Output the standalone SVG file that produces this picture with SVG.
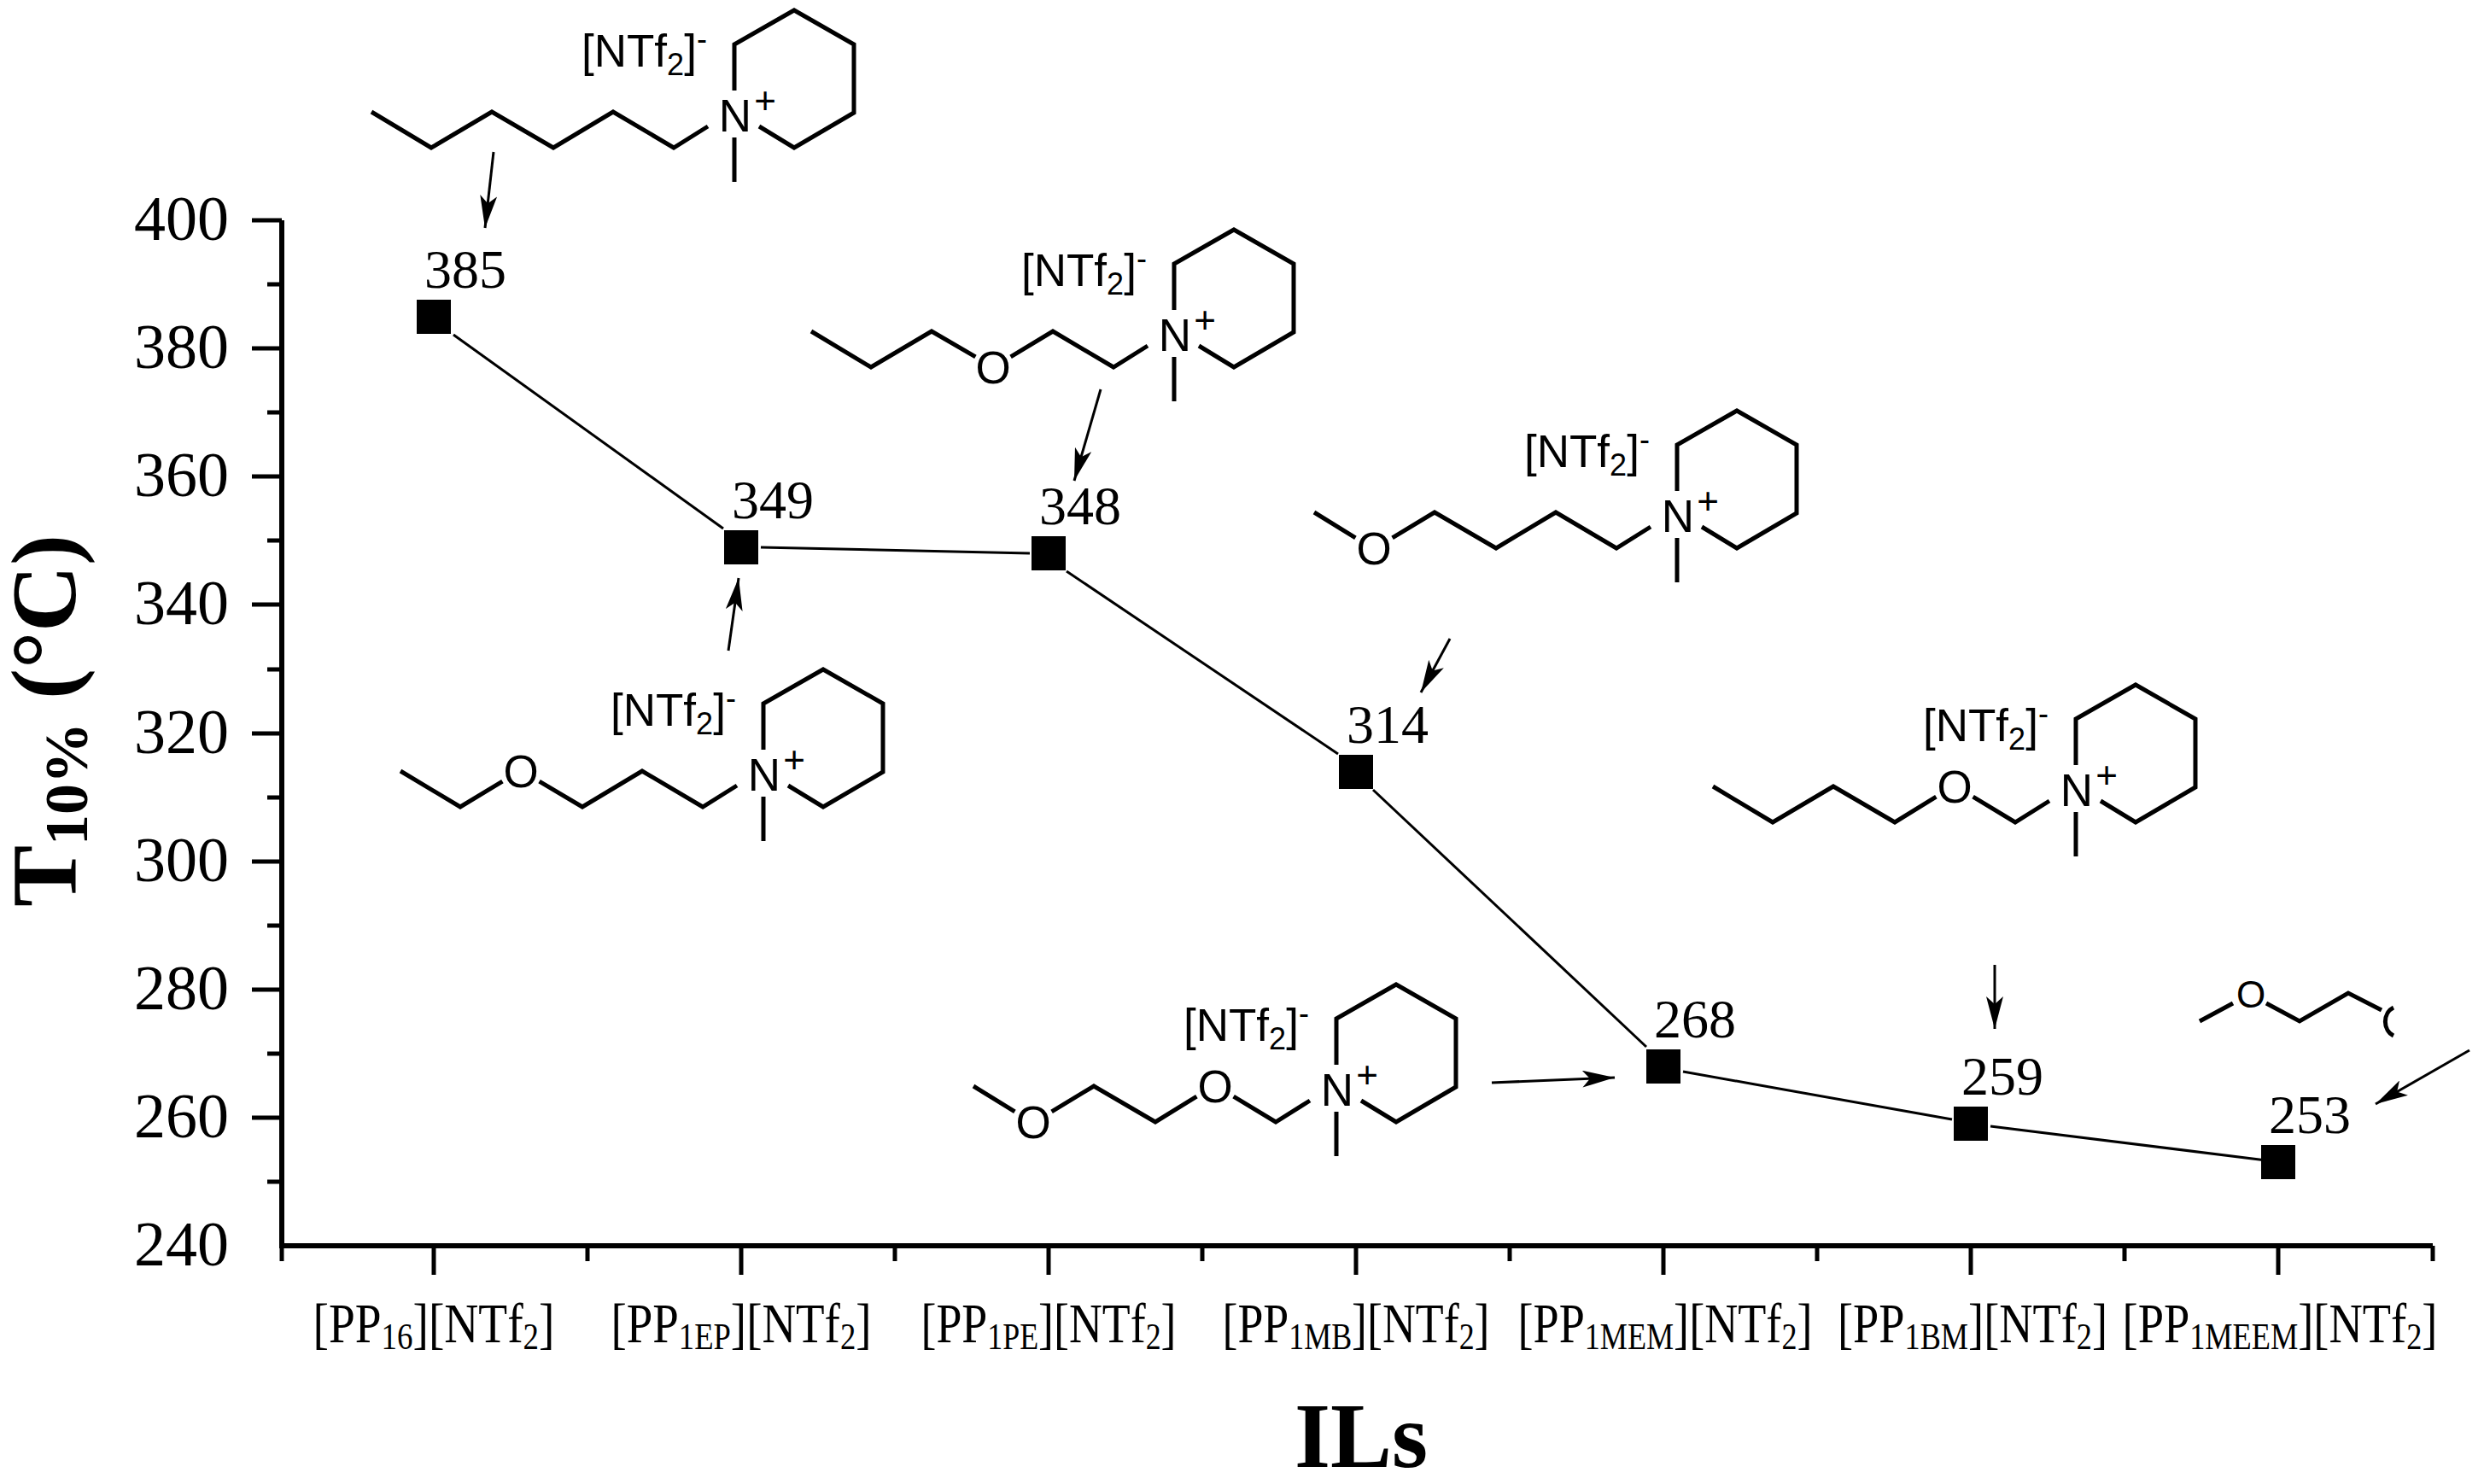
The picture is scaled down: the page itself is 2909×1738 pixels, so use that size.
<svg xmlns="http://www.w3.org/2000/svg" width="2909" height="1738" viewBox="0 0 2909 1738">
<style>
.bond{fill:none;stroke:#000;stroke-width:5;stroke-linejoin:miter}
.ax{fill:none;stroke:#000;stroke-width:6}
.tk{fill:none;stroke:#000;stroke-width:5}
.cn{fill:none;stroke:#000;stroke-width:3}
.ar{fill:none;stroke:#000;stroke-width:3;marker-end:url(#ah)}
.sans{font-family:"Liberation Sans",Arial,sans-serif;fill:#000}
.ser{font-family:"Liberation Serif","Times New Roman",serif;fill:#000}
.ion{font-size:53px}
.at{font-size:53px;text-anchor:middle}
.plus{font-size:44px;text-anchor:middle}
.yt{font-size:74px;text-anchor:end}
.xt{font-size:66px;text-anchor:middle}
.dl{font-size:64px;font-family:"Liberation Serif","Times New Roman",serif}
.pt{fill:#000}
</style>
<defs>
<marker id="ah" markerUnits="userSpaceOnUse" markerWidth="40" markerHeight="20" refX="38" refY="10" orient="auto"><path d="M0,0 L38,10 L0,20 L9,10 Z" fill="#000"/></marker>
<g id="ring">
<path class="bond" d="M-1,-29 L-1,-83 L69,-123 L139,-83 L139,-3 L69,38 L28,13"/>
<path class="bond" d="M-1,26 L-1,78"/>
</g>
</defs>
<rect width="2909" height="1738" fill="#fff"/>

<g id="axes">
<path class="ax" d="M330,258 L330,1459 L2849,1459"/>
<path class="tk" d="M295,258H330M295,408H330M295,558H330M295,708H330M295,859H330M295,1009H330M295,1159H330M295,1309H330M313,333H330M313,483H330M313,633H330M313,784H330M313,934H330M313,1084H330M313,1234H330M313,1384H330"/>
<path class="tk" d="M508,1459V1493M868,1459V1493M1228,1459V1493M1588,1459V1493M1948,1459V1493M2308,1459V1493M2668,1459V1493M330,1459V1477M688,1459V1477M1048,1459V1477M1408,1459V1477M1768,1459V1477M2128,1459V1477M2488,1459V1477M2849,1459V1477"/>
<g class="ser yt">
<text x="268" y="281">400</text><text x="268" y="431">380</text><text x="268" y="581">360</text><text x="268" y="731">340</text><text x="268" y="882">320</text><text x="268" y="1032">300</text><text x="268" y="1182">280</text><text x="268" y="1332">260</text><text x="268" y="1482">240</text>
</g>
<g class="ser xt">
<text x="508" y="1572" textLength="283" lengthAdjust="spacingAndGlyphs">[PP<tspan font-size="44" dy="8">16</tspan><tspan dy="-8">][NTf</tspan><tspan font-size="44" dy="8">2</tspan><tspan dy="-8">]</tspan></text>
<text x="868" y="1572" textLength="305" lengthAdjust="spacingAndGlyphs">[PP<tspan font-size="44" dy="8">1EP</tspan><tspan dy="-8">][NTf</tspan><tspan font-size="44" dy="8">2</tspan><tspan dy="-8">]</tspan></text>
<text x="1228" y="1572" textLength="299" lengthAdjust="spacingAndGlyphs">[PP<tspan font-size="44" dy="8">1PE</tspan><tspan dy="-8">][NTf</tspan><tspan font-size="44" dy="8">2</tspan><tspan dy="-8">]</tspan></text>
<text x="1588" y="1572" textLength="313" lengthAdjust="spacingAndGlyphs">[PP<tspan font-size="44" dy="8">1MB</tspan><tspan dy="-8">][NTf</tspan><tspan font-size="44" dy="8">2</tspan><tspan dy="-8">]</tspan></text>
<text x="1950" y="1572" textLength="345" lengthAdjust="spacingAndGlyphs">[PP<tspan font-size="44" dy="8">1MEM</tspan><tspan dy="-8">][NTf</tspan><tspan font-size="44" dy="8">2</tspan><tspan dy="-8">]</tspan></text>
<text x="2310" y="1572" textLength="316" lengthAdjust="spacingAndGlyphs">[PP<tspan font-size="44" dy="8">1BM</tspan><tspan dy="-8">][NTf</tspan><tspan font-size="44" dy="8">2</tspan><tspan dy="-8">]</tspan></text>
<text x="2670" y="1572" textLength="369" lengthAdjust="spacingAndGlyphs">[PP<tspan font-size="44" dy="8">1MEEM</tspan><tspan dy="-8">][NTf</tspan><tspan font-size="44" dy="8">2</tspan><tspan dy="-8">]</tspan></text>
</g>
<text class="ser" x="1594" y="1718" font-size="108" font-weight="bold" text-anchor="middle">ILs</text>
<text class="ser" transform="translate(88,844) rotate(-90)" font-size="108" font-weight="bold" text-anchor="middle">T<tspan font-size="72" dy="14">10%</tspan><tspan dy="-14"> (°C)</tspan></text>
</g>

<g id="connectors">
<path class="cn" d="M531,392 L847,619"/>
<path class="cn" d="M891,641 L1206,648"/>
<path class="cn" d="M1249,669 L1567,883"/>
<path class="cn" d="M1608,925 L1928,1226"/>
<path class="cn" d="M1971,1255 L2286,1311"/>
<path class="cn" d="M2331,1319 L2654,1359"/>
<path class="ar" d="M578,178 L568,267"/>
<path class="ar" d="M853,762 L865,677"/>
<path class="ar" d="M1289,456 L1258,563"/>
<path class="ar" d="M1698,748 L1664,811"/>
<path class="ar" d="M1747,1268 L1891,1262"/>
<path class="ar" d="M2336,1130 L2336,1205"/>
<path class="ar" d="M2892,1230 L2782,1293"/>
</g>

<g id="p1"><rect class="pt" x="488" y="351" width="40" height="40"/><text class="dl" x="497" y="337">385</text></g>
<g id="p2"><rect class="pt" x="848" y="621" width="40" height="40"/><text class="dl" x="857" y="607">349</text></g>
<g id="p3"><rect class="pt" x="1208" y="628" width="40" height="40"/><text class="dl" x="1217" y="614">348</text></g>
<g id="p4"><rect class="pt" x="1568" y="884" width="40" height="40"/><text class="dl" x="1577" y="870">314</text></g>
<g id="p5"><rect class="pt" x="1928" y="1229" width="40" height="40"/><text class="dl" x="1937" y="1215">268</text></g>
<g id="p6"><rect class="pt" x="2288" y="1296" width="40" height="40"/><text class="dl" x="2297" y="1282">259</text></g>
<g id="p7"><rect class="pt" x="2648" y="1341" width="40" height="40"/><text class="dl" x="2657" y="1327">253</text></g>

<g id="s-pp16" transform="translate(861,135)">
<use href="#ring"/>
<path class="bond" d="M-32,13 L-72,38 L-143,-4 L-213,38 L-285,-4 L-356,38 L-426,-4"/>
<text class="sans at" x="0" y="19">N</text><text class="sans plus" x="35" y="-2">+</text>
<text class="sans ion" x="-180" y="-57">[NTf<tspan font-size="36" dy="10">2</tspan><tspan dy="-10">]</tspan><tspan font-size="36" dy="-20">-</tspan></text>
</g>
<g id="s-pp1pe" transform="translate(1376,392)">
<use href="#ring"/>
<path class="bond" d="M-32,13 L-72,38 L-143,-4 L-192.4,25.8 M-233.6,25.8 L-285,-4 L-356,38 L-426,-4"/>
<text class="sans at" x="-213" y="57">O</text>
<text class="sans at" x="0" y="19">N</text><text class="sans plus" x="35" y="-2">+</text>
<text class="sans ion" x="-180" y="-57">[NTf<tspan font-size="36" dy="10">2</tspan><tspan dy="-10">]</tspan><tspan font-size="36" dy="-20">-</tspan></text>
</g>
<g id="s-pp1ep" transform="translate(895,907)">
<use href="#ring"/>
<path class="bond" d="M-32,13 L-72,38 L-143,-4 L-213,38 L-263.4,8.2 M-306.6,8.2 L-356,38 L-426,-4"/>
<text class="sans at" x="-285" y="15">O</text>
<text class="sans at" x="0" y="19">N</text><text class="sans plus" x="35" y="-2">+</text>
<text class="sans ion" x="-180" y="-57">[NTf<tspan font-size="36" dy="10">2</tspan><tspan dy="-10">]</tspan><tspan font-size="36" dy="-20">-</tspan></text>
</g>
<g id="s-pp1mb" transform="translate(1965,604)">
<use href="#ring"/>
<path class="bond" d="M-32,13 L-72,38 L-143,-4 L-213,38 L-285,-4 L-334.4,25.8 M-377.6,25.8 L-426,-4"/>
<text class="sans at" x="-356" y="57">O</text>
<text class="sans at" x="0" y="19">N</text><text class="sans plus" x="35" y="-2">+</text>
<text class="sans ion" x="-180" y="-57">[NTf<tspan font-size="36" dy="10">2</tspan><tspan dy="-10">]</tspan><tspan font-size="36" dy="-20">-</tspan></text>
</g>
<g id="s-pp1bm" transform="translate(2432,925)">
<use href="#ring"/>
<path class="bond" d="M-32,13 L-72,38 L-121.4,8.2 M-164.6,8.2 L-213,38 L-285,-4 L-356,38 L-426,-4"/>
<text class="sans at" x="-143" y="15">O</text>
<text class="sans at" x="0" y="19">N</text><text class="sans plus" x="35" y="-2">+</text>
<text class="sans ion" x="-180" y="-57">[NTf<tspan font-size="36" dy="10">2</tspan><tspan dy="-10">]</tspan><tspan font-size="36" dy="-20">-</tspan></text>
</g>
<g id="s-pp1mem" transform="translate(1566,1276)">
<use href="#ring"/>
<path class="bond" d="M-32,13 L-72,38 L-121.4,8.2 M-164.6,8.2 L-213,38 L-285,-4 L-334.4,25.8 M-377.6,25.8 L-426,-4"/>
<text class="sans at" x="-143" y="15">O</text><text class="sans at" x="-356" y="57">O</text>
<text class="sans at" x="0" y="19">N</text><text class="sans plus" x="35" y="-2">+</text>
<text class="sans ion" x="-180" y="-57">[NTf<tspan font-size="36" dy="10">2</tspan><tspan dy="-10">]</tspan><tspan font-size="36" dy="-20">-</tspan></text>
</g>
<g id="s-pp1meem">
<path class="bond" d="M2576,1196 L2615,1175 M2654,1175 L2693,1196 L2750,1163 L2789,1183"/>
<path class="bond" d="M2803,1180 A16,18 0 0 0 2803,1213"/>
<text class="sans" x="2636" y="1180" font-size="44" text-anchor="middle">O</text>
</g>
</svg>
